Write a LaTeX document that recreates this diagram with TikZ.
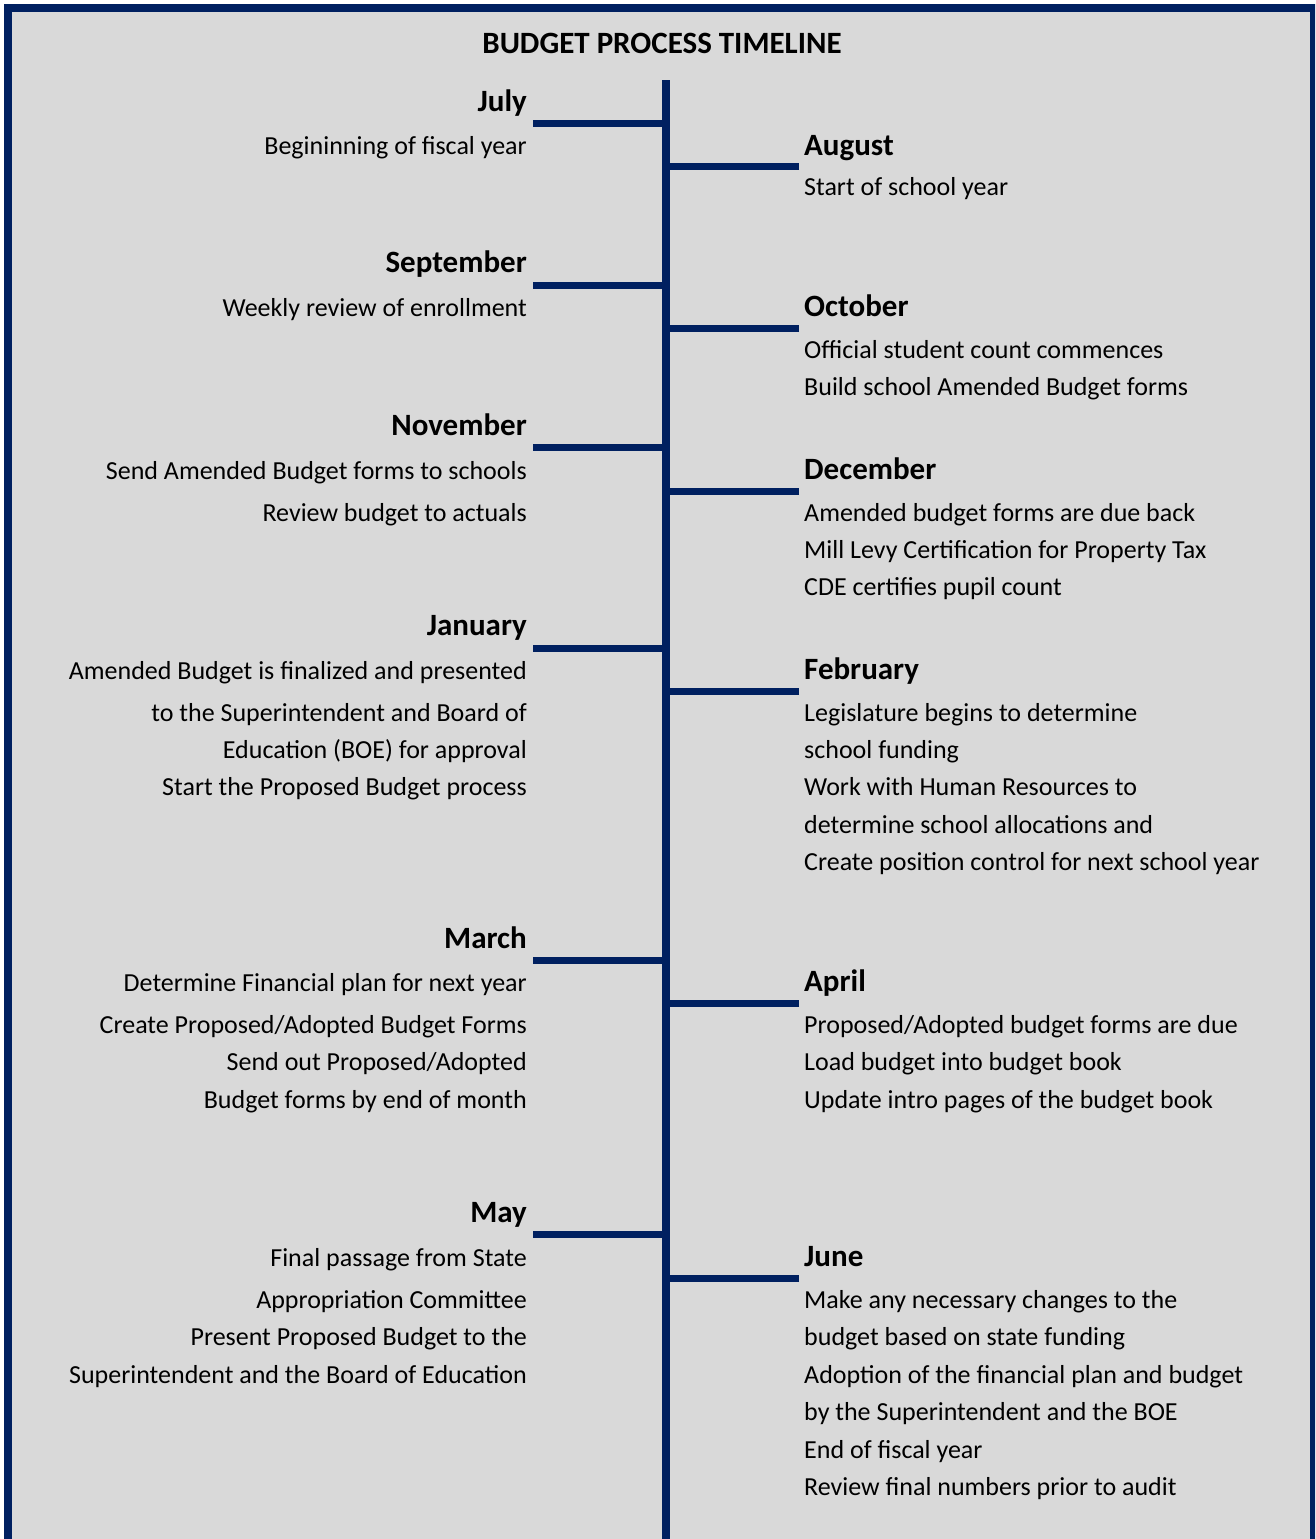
\documentclass[tikz,border=0pt]{standalone}
\usepackage{fontspec}
\setmainfont{Carlito}
\usepackage{xcolor}
\definecolor{budgetNavy}{HTML}{002060}
\definecolor{budgetGrey}{HTML}{D9D9D9}
\tikzset{
  titletext/.style={anchor=base, font=\fontsize{31}{37}\selectfont\bfseries, inner sep=0pt},
  monthleft/.style={anchor=base east, font=\fontsize{31}{37}\selectfont\bfseries, inner sep=0pt},
  monthright/.style={anchor=base west, font=\fontsize{31}{37}\selectfont\bfseries, inner sep=0pt},
  descleft/.style={anchor=base east, font=\fontsize{26}{31}\selectfont, inner sep=0pt},
  descright/.style={anchor=base west, font=\fontsize{26}{31}\selectfont, inner sep=0pt},
  spineline/.style={draw=budgetNavy, line width=8pt},
  tickline/.style={draw=budgetNavy, line width=7pt},
}

\begin{document}
\begin{tikzpicture}[x=1pt,y=-1pt]
  \clip (0,0) rectangle (1315,1539);
  \useasboundingbox (0,0) rectangle (1315,1539);
  \draw[draw=budgetNavy, fill=budgetGrey, line width=8pt] (8,8) rectangle (1314,1560);

  \node[titletext] (title) at (662,53) {BUDGET PROCESS TIMELINE};

  % --- spine ---
  \coordinate (top) at (666,80);
  \coordinate (bottom) at (666,1545);
  \draw[spineline] (top) -- (bottom);

  % --- tick ends ---
  \coordinate (julT) at (533,123);
  \coordinate (augT) at (799,166);
  \coordinate (sepT) at (533,285);
  \coordinate (octT) at (799,328);
  \coordinate (novT) at (533,447);
  \coordinate (decT) at (799,491);
  \coordinate (janT) at (533,648);
  \coordinate (febT) at (799,691);
  \coordinate (marT) at (533,960);
  \coordinate (aprT) at (799,1003);
  \coordinate (mayT) at (533,1234);
  \coordinate (junT) at (799,1278);
  \foreach \m in {julT,augT,sepT,octT,novT,decT,janT,febT,marT,aprT,mayT,junT} { \draw[tickline] (\m) -- (\m -| top); }

  % --- left column ---
  \node[monthleft] (jul) at (527,111) {July};
  \node[descleft] (jul1) at (527,154) {Begininning of fiscal year};

  \node[monthleft] (sep) at (527,272) {September};
  \node[descleft] (sep1) at (527,316) {Weekly review of enrollment};

  \node[monthleft] (nov) at (527,435) {November};
  \node[descleft] (nov1) at (527,479) {Send Amended Budget forms to schools};
  \node[descleft] (nov2) at (527,521) {Review budget to actuals};

  \node[monthleft] (jan) at (527,635) {January};
  \node[descleft] (jan1) at (527,679) {Amended Budget is finalized and presented};
  \node[descleft] (jan2) at (527,721) {to the Superintendent and Board of};
  \node[descleft] (jan3) at (527,758) {Education (BOE) for approval};
  \node[descleft] (jan4) at (527,795) {Start the Proposed Budget process};

  \node[monthleft] (mar) at (527,948) {March};
  \node[descleft] (mar1) at (527,991) {Determine Financial plan for next year};
  \node[descleft] (mar2) at (527,1033) {Create Proposed/Adopted Budget Forms};
  \node[descleft] (mar3) at (527,1070) {Send out Proposed/Adopted};
  \node[descleft] (mar4) at (527,1108) {Budget forms by end of month};

  \node[monthleft] (may) at (527,1222) {May};
  \node[descleft] (may1) at (527,1266) {Final passage from State};
  \node[descleft] (may2) at (527,1308) {Appropriation Committee};
  \node[descleft] (may3) at (527,1345) {Present Proposed Budget to the};
  \node[descleft] (may4) at (527,1383) {Superintendent and the Board of Education};

  % --- right column ---
  \node[monthright] (aug) at (804,155) {August};
  \node[descright] (aug1) at (804,195) {Start of school year};

  \node[monthright] (oct) at (804,316) {October};
  \node[descright] (oct1) at (804,358) {Official student count commences};
  \node[descright] (oct2) at (804,395) {Build school Amended Budget forms};

  \node[monthright] (dec) at (804,479) {December};
  \node[descright] (dec1) at (804,521) {Amended budget forms are due back};
  \node[descright] (dec2) at (804,558) {Mill Levy Certification for Property Tax};
  \node[descright] (dec3) at (804,595) {CDE certifies pupil count};

  \node[monthright] (feb) at (804,679) {February};
  \node[descright] (feb1) at (804,721) {Legislature begins to determine};
  \node[descright] (feb2) at (804,758) {school funding};
  \node[descright] (feb3) at (804,795) {Work with Human Resources to};
  \node[descright] (feb4) at (804,833) {determine school allocations and};
  \node[descright] (feb5) at (804,870) {Create position control for next school year};

  \node[monthright] (apr) at (804,991) {April};
  \node[descright] (apr1) at (804,1033) {Proposed/Adopted budget forms are due};
  \node[descright] (apr2) at (804,1070) {Load budget into budget book};
  \node[descright] (apr3) at (804,1108) {Update intro pages of the budget book};

  \node[monthright] (jun) at (804,1266) {June};
  \node[descright] (jun1) at (804,1308) {Make any necessary changes to the};
  \node[descright] (jun2) at (804,1345) {budget based on state funding};
  \node[descright] (jun3) at (804,1383) {Adoption of the financial plan and budget};
  \node[descright] (jun4) at (804,1420) {by the Superintendent and the BOE};
  \node[descright] (jun5) at (804,1458) {End of fiscal year};
  \node[descright] (jun6) at (804,1495) {Review final numbers prior to audit};
\end{tikzpicture}
\end{document}
